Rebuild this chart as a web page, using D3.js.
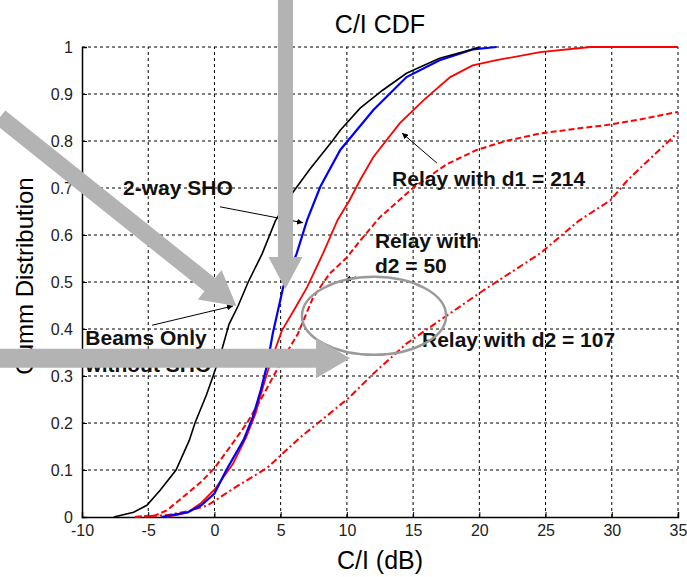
<!DOCTYPE html>
<html>
<head>
<meta charset="utf-8">
<script src="https://cdn.jsdelivr.net/npm/d3@7"></script>
<style>
  body { margin: 0; background: #fff; }
  text { font-family: "Liberation Sans", Arial, sans-serif; }
</style>
</head>
<body>
<svg id="chart" width="687" height="577"></svg>
<script>
// data: [C/I (dB), cumulative probability]
const beamsOnly = [[-7.6,0],[-6.1,0.01],[-5.1,0.025],[-4.1,0.057],[-2.9,0.1],[-1.9,0.163],[-1.47,0.2],[-0.6,0.26],[-0.1,0.3],[0.5,0.35],[1.1,0.41],[1.8,0.45],[2.55,0.5],[3.6,0.56],[4.6,0.63],[5.9,0.69],[7.2,0.74],[8.9,0.8],[9.5,0.823],[11,0.87],[12.7,0.908],[14.5,0.944],[17,0.976],[19.5,0.995],[20,1]]
const twoWaySHO = [[-4,0],[-3,0.005],[-2,0.01],[-1,0.025],[0,0.05],[0.9,0.1],[2.2,0.164],[2.9,0.213],[3.5,0.27],[4.0,0.326],[4.4,0.39],[4.8,0.44],[5.2,0.49],[6.2,0.56],[7,0.632],[8,0.703],[9.5,0.781],[12,0.866],[14.5,0.936],[17,0.972],[19.5,0.995],[21.3,1]]
const relayD1 = [[-3.6,0],[-2,0.01],[-1,0.03],[0,0.058],[1.4,0.113],[2.4,0.17],[3.1,0.22],[3.7,0.28],[4.2,0.326],[5.1,0.397],[6,0.44],[7,0.489],[8.2,0.561],[9.3,0.632],[10.2,0.674],[11,0.717],[12,0.766],[14,0.838],[15.8,0.887],[17.8,0.936],[19.5,0.961],[21.3,0.972],[24.6,0.989],[28.4,1],[35,1]]
const relayD2_50 = [[-6,0],[-4.5,0.003],[-3.6,0.014],[-2.35,0.043],[-1,0.075],[0,0.104],[1.2,0.15],[2.46,0.2],[3.7,0.26],[4.96,0.326],[6.3,0.39],[7.45,0.467],[8.7,0.518],[10,0.552],[11,0.588],[12.5,0.638],[15,0.70],[17.5,0.75],[19.8,0.781],[22,0.8],[24.6,0.816],[27,0.825],[29.6,0.834],[32,0.845],[35,0.862]]
const relayD2_107 = [[-6,0],[-3.6,0.004],[-2,0.012],[-0.5,0.025],[1.4,0.06],[4,0.105],[6.5,0.17],[8.7,0.22],[10.2,0.255],[12,0.305],[14.5,0.369],[17,0.418],[20.3,0.482],[24.6,0.561],[27.5,0.63],[29.9,0.674],[31.2,0.717],[34.9,0.816],[35,0.818]]

const xTicks = [-10,-5,0,5,10,15,20,25,30,35]
const yTicks = [0,0.1,0.2,0.3,0.4,0.5,0.6,0.7,0.8,0.9,1]

const svg = d3.select('#chart')

//plot box
const x = d3.scaleLinear().domain([-10,35]).range([82,678])
const y = d3.scaleLinear().domain([0,1]).range([517,47])

//dashed grid
svg.append('g').selectAll('line').data(xTicks.slice(1)).join('line')
  .attr('x1', d => x(d)).attr('x2', d => x(d))
  .attr('y1', y(0)).attr('y2', y(1))
  .attr('stroke', '#000').attr('stroke-width', 1).attr('stroke-dasharray', '3,3')
svg.append('g').selectAll('line').data(yTicks.slice(1)).join('line')
  .attr('x1', x(-10)).attr('x2', x(35))
  .attr('y1', d => y(d)).attr('y2', d => y(d))
  .attr('stroke', '#000').attr('stroke-width', 1).attr('stroke-dasharray', '3,3')

//axes
const xAxis = svg.append('g').attr('transform', `translate(0,${y(0)})`)
  .call(d3.axisBottom(x).tickValues(xTicks).tickSize(-5).tickPadding(8).tickFormat(d => String(d)))
const yAxis = svg.append('g').attr('transform', `translate(${x(-10)},0)`)
  .call(d3.axisLeft(y).tickValues(yTicks).tickSize(-5).tickPadding(9).tickFormat(d => String(d)))
;[xAxis, yAxis].forEach(a => {
  a.select('.domain').attr('stroke', '#000').attr('stroke-width', 1.5)
  a.selectAll('.tick text').attr('font-size', 16).attr('fill', '#222').attr('font-family', '"Liberation Sans", Arial, sans-serif')
})
xAxis.select('.tick:first-child text').attr('dy', '0.85em')
yAxis.select('.tick:first-child text').attr('dy', '0.1em')

//curves
const line = d3.line().x(d => x(d[0])).y(d => y(d[1]))
const series = [
  {data: relayD2_107, color: '#ff0000', width: 2, dash: '7,3,2,3'},
  {data: relayD2_50, color: '#ff0000', width: 2, dash: '6,3'},
  {data: relayD1, color: '#ff0000', width: 1.8, dash: null},
  {data: twoWaySHO, color: '#0000ff', width: 2.2, dash: null},
  {data: beamsOnly, color: '#000000', width: 1.6, dash: null}
]
svg.append('g').selectAll('path').data(series).join('path')
  .attr('d', d => line(d.data))
  .attr('fill', 'none')
  .attr('stroke', d => d.color)
  .attr('stroke-width', d => d.width)
  .attr('stroke-dasharray', d => d.dash)

//titles
svg.append('text').attr('x', x(12.5)).attr('y', 33).attr('text-anchor', 'middle')
  .attr('font-size', 25).text('C/I CDF')
svg.append('text').attr('x', x(12.5)).attr('y', 569).attr('text-anchor', 'middle')
  .attr('font-size', 25).text('C/I (dB)')
svg.append('text').attr('transform', 'translate(33,276) rotate(-90)').attr('text-anchor', 'middle')
  .attr('font-size', 24).text('Cumm Distribution')

//black leader lines with small arrowheads
svg.append('defs').append('marker').attr('id', 'head')
  .attr('viewBox', '0 0 10 10').attr('refX', 10).attr('refY', 5)
  .attr('markerWidth', 6).attr('markerHeight', 6).attr('orient', 'auto')
  .append('path').attr('d', 'M0,0L10,5L0,10z').attr('fill', '#000')
const leaders = [
  [[0.42,0.66],[6.69,0.626]],
  [[-4.71,0.408],[1.40,0.449]],
  [[16.8,0.753],[14.16,0.817]],
  [[10.69,0.511],[9.86,0.504]]
]
svg.append('g').selectAll('line').data(leaders).join('line')
  .attr('x1', d => x(d[0][0])).attr('y1', d => y(d[0][1]))
  .attr('x2', d => x(d[1][0])).attr('y2', d => y(d[1][1]))
  .attr('stroke', '#000').attr('stroke-width', 1).attr('marker-end', 'url(#head)')

//labels
const labels = [
  {t: '2-way SHO', p: [-6.9,0.685]},
  {t: 'Beams Only', p: [-9.75,0.366]},
  {t: 'without SHO', p: [-9.75,0.309]},
  {t: 'Relay with d1 = 214', p: [13.41,0.704]},
  {t: 'Relay with', p: [12.12,0.572]},
  {t: 'd2 = 50', p: [12.12,0.519]},
  {t: 'Relay with d2 = 107', p: [15.67,0.362]}
]
svg.append('g').selectAll('text').data(labels).join('text')
  .attr('x', d => x(d.p[0])).attr('y', d => y(d.p[1]))
  .attr('font-size', 21).attr('font-weight', 'bold').attr('fill', '#111')
  .text(d => d.t)

//gray ellipse
svg.append('ellipse').attr('cx', x(12.05)).attr('cy', y(0.428))
  .attr('rx', x(12.05 + 5.44) - x(12.05)).attr('ry', y(0) - y(0.083))
  .attr('fill', 'none').attr('stroke', '#9a9a9a').attr('stroke-width', 2.5)

//big gray arrows
function arrow(from, to, shaft, headW, headL) {
  const x1 = x(from[0]), y1 = y(from[1]), x2 = x(to[0]), y2 = y(to[1])
  const len = Math.hypot(x2 - x1, y2 - y1)
  const ang = Math.atan2(y2 - y1, x2 - x1) * 180 / Math.PI
  const s = shaft / 2, h = headW / 2, b = len - headL
  svg.append('path')
    .attr('d', `M0,${-s}L${b},${-s}L${b},${-h}L${len},0L${b},${h}L${b},${s}L0,${s}z`)
    .attr('transform', `translate(${x1},${y1}) rotate(${ang})`)
    .attr('fill', '#b3b3b3')
}
arrow([5.36,1.1],[5.36,0.485], 15, 34, 32)
arrow([-16.19,0.851],[1.65,0.449], 17, 38, 34)
arrow([-16.19,0.338],[10.24,0.338], 19, 40, 34)
</script>
</body>
</html>
